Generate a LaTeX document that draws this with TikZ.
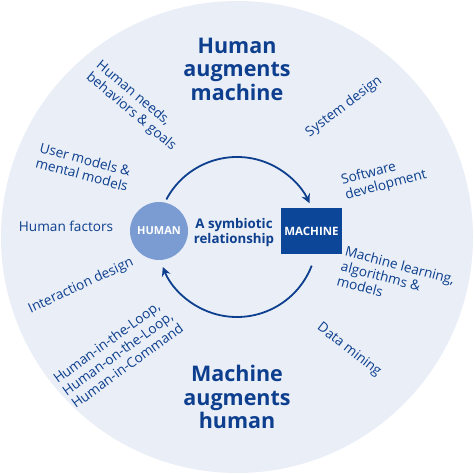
\documentclass[tikz,border=0pt]{standalone}
\usepackage{fontspec}
\setmainfont{Open Sans}
\usepackage{xcolor}
\usepackage{tikz}
\usetikzlibrary{shapes, arrows.meta, positioning}
\usetikzlibrary{calc}
\definecolor{ink}{HTML}{0D3F8E}
\definecolor{disc}{HTML}{E9EEF7}
\definecolor{humanblue}{HTML}{7A9CD3}
\definecolor{machineblue}{HTML}{0C4699}

\begin{document}
\begin{tikzpicture}
  [
    x=1pt, y=1pt,
    Human/.style={circle, fill=humanblue, text=white, minimum size=58pt, inner sep=0pt, font=\fontsize{11}{12}\selectfont\bfseries},
    Machine/.style={rectangle, fill=machineblue, text=white, minimum width=61pt, minimum height=46pt, inner sep=0pt, font=\fontsize{11.5}{12}\selectfont\bfseries},
    Title/.style={text=ink, align=center, font=\fontsize{21.5}{23.5}\selectfont\bfseries},
    Middle/.style={text=ink, align=center, font=\fontsize{13.3}{15}\selectfont\bfseries},
    Topic/.style={text=ink, align=left, font=\fontsize{13.6}{15.5}\selectfont},
    Cycle/.style={ink, line width=1.8pt, -{Stealth[length=9pt, width=9pt]}}
  ]
  \useasboundingbox (0,0) rectangle (474,474);
  % Disc
  \fill[disc] (237,237) circle (236);
  \coordinate (c) at (237,237);

  % Nodes
  \node[Human] (human) at (159,243) {HUMAN};
  \node[Machine] (machine) at (311.5,243) {MACHINE};
  \node[Middle] (symb) at (234,241) {A symbiotic\\relationship};

  \node[Title] (hum2mach) at (237,405) {Human\\augments\\machine};
  \node[Title] (mach2hum) at (237,77) {Machine\\augments\\human};

  % Topics, left side
  \node[Topic, rotate=-40] (needs) at (136,368) {Human needs,\\behaviors \& goals};
  \node[Topic, rotate=-15] (usermod) at (84,307) {User models \&\\mental models};
  \node[Topic] (factors) at (66,248) {Human factors};
  \node[Topic, rotate=25] (interact) at (81,188) {Interaction design};
  \node[Topic, rotate=36] (loop) at (118,121) {Human-in-the-Loop,\\Human-on-the-Loop,\\Human-in-Command};

  % Topics, right side
  \node[Topic, rotate=37] (sysdes) at (344,367) {System design};
  \node[Topic, rotate=15] (softdev) at (384,296) {Software\\development};
  \node[Topic, rotate=-15] (ml) at (396,194) {Machine learning,\\algorithms \&\\models};
  \node[Topic, rotate=-38] (mining) at (349,124) {Data mining};

  % Cycle
  \coordinate (topstart) at ($(c)+(152:80)$);
  \coordinate (botstart) at ($(c)+(-21:80)$);
  \draw[Cycle] (topstart) arc[start angle=152, end angle=25, radius=80];
  \draw[Cycle] (botstart) arc[start angle=-21, end angle=-158, radius=80];
\end{tikzpicture}
\end{document}
